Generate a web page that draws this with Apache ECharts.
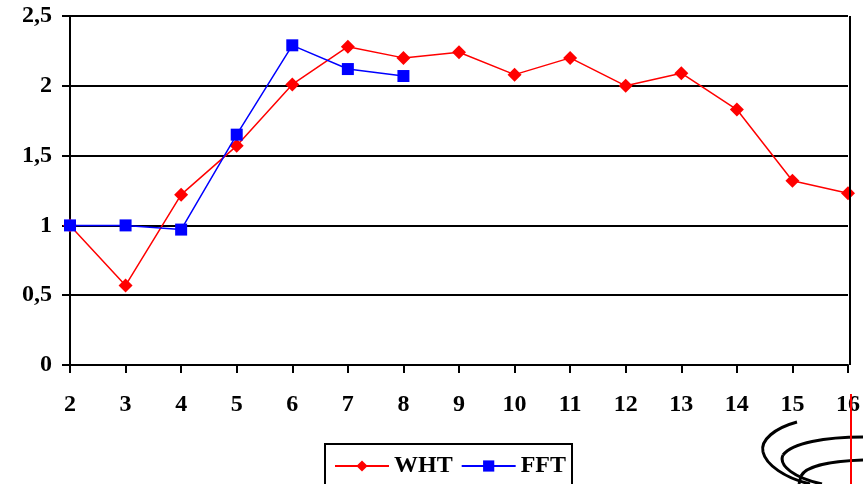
<!DOCTYPE html>
<html lang="en">
	<head>
		<meta charset="UTF-8" />
		<title>WHT / FFT</title>
		<script src="https://cdn.jsdelivr.net/npm/echarts@6/dist/echarts.min.js"></script>
		<style>
			html, body { margin: 0; padding: 0; background: #fff; }
		</style>
	</head>
	<body>
		<div id="myChart" style="width: 863px; height: 484px"></div>

		<script>
			const categories = ["2", "3", "4", "5", "6", "7", "8", "9", "10", "11", "12", "13", "14", "15", "16"];
			const whtValues = [1.0, 0.57, 1.22, 1.57, 2.01, 2.28, 2.2, 2.24, 2.08, 2.2, 2.0, 2.09, 1.83, 1.32, 1.23];
			const fftValues = [1.0, 1.0, 0.97, 1.65, 2.29, 2.12, 2.07];

			const font = "'Liberation Serif', 'Times New Roman', serif";
			const chart = echarts.init(document.getElementById("myChart"));

			// small helper for the logo strokes in the corner
			function curve(x1, y1, cpx1, cpy1, cpx2, cpy2, x2, y2) {
				return {
					type: "bezierCurve",
					shape: { x1, y1, cpx1, cpy1, cpx2, cpy2, x2, y2 },
					style: { stroke: "#000", lineWidth: 3, fill: null },
				};
			}

			const option = {
				animation: false,
				grid: { left: 70, right: 13, top: 16, bottom: 119, containLabel: false },
				xAxis: {
					type: "category",
					data: categories,
					boundaryGap: false,
					axisLine: { lineStyle: { color: "#000", width: 2 } },
					axisTick: { show: true, length: 8, lineStyle: { color: "#000", width: 2 } },
					axisLabel: { color: "#000", fontFamily: font, fontWeight: "bold", fontSize: 24, margin: 28 },
					splitLine: { show: false },
				},
				yAxis: {
					type: "value",
					min: 0,
					max: 2.5,
					interval: 0.5,
					axisLine: { show: true, lineStyle: { color: "#000", width: 2 } },
					axisTick: { show: true, length: 8, lineStyle: { color: "#000", width: 2 } },
					axisLabel: {
						color: "#000",
						fontFamily: font,
						fontWeight: "bold",
						fontSize: 24,
						margin: 18,
						formatter: (v) => String(v).replace(".", ","),
					},
					splitLine: { show: true, lineStyle: { color: "#000", width: 2 } },
				},
				legend: {
					left: 325,
					top: 444,
					padding: [10, 6, 12, 9],
					borderColor: "#000",
					borderWidth: 2,
					itemWidth: 54,
					itemHeight: 14,
					itemGap: 8,
					textStyle: { color: "#000", fontFamily: font, fontWeight: "bold", fontSize: 24 },
					data: ["WHT", "FFT"],
				},
				series: [
					{
						name: "WHT",
						type: "line",
						data: whtValues,
						symbol: "diamond",
						symbolSize: 14,
						itemStyle: { color: "#ff0000" },
						lineStyle: { color: "#ff0000", width: 1.5 },
						z: 3,
					},
					{
						name: "FFT",
						type: "line",
						data: fftValues,
						symbol: "rect",
						symbolSize: 12,
						itemStyle: { color: "#0000ff" },
						lineStyle: { color: "#0000ff", width: 1.5 },
						z: 4,
					},
				],
				graphic: [
					{
						type: "line",
						shape: { x1: 850, y1: 16, x2: 850, y2: 365 },
						style: { stroke: "#000", lineWidth: 2 },
						z: 10,
					},
					curve(797, 422, 775, 428, 760, 440, 763, 452),
					curve(763, 452, 766, 465, 785, 478, 810, 484),
					curve(863, 437, 825, 437, 792, 443, 783, 455),
					curve(783, 455, 778, 466, 795, 478, 822, 484),
					curve(863, 460, 832, 461, 806, 466, 801, 476),
					{
						type: "line",
						shape: { x1: 801, y1: 476, x2: 799, y2: 484 },
						style: { stroke: "#000", lineWidth: 3 },
					},
					{
						type: "line",
						shape: { x1: 851, y1: 394, x2: 851, y2: 484 },
						style: { stroke: "#ff0000", lineWidth: 2 },
						z: 10,
					},
				],
			};

			chart.setOption(option);
		</script>
	</body>
</html>
